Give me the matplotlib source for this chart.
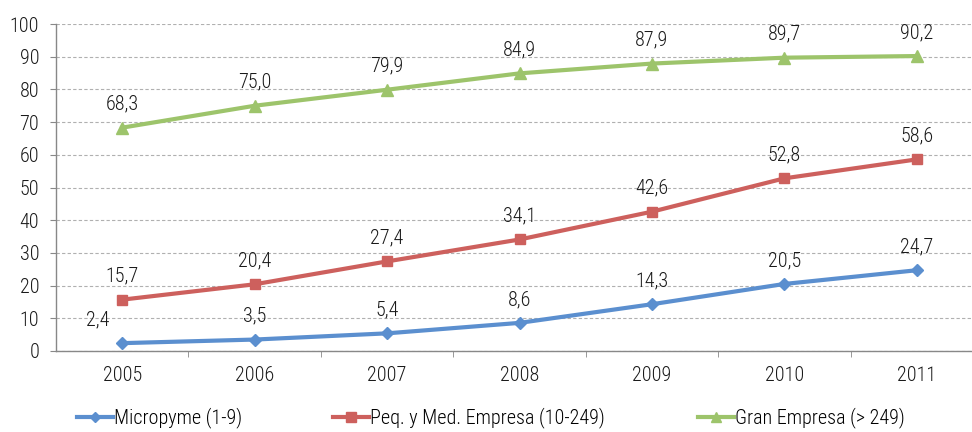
import matplotlib
matplotlib.use("Agg")
import matplotlib.pyplot as plt
from matplotlib.lines import Line2D

plt.rcParams['font.family'] = ['Roboto Condensed', 'DejaVu Sans']
plt.rcParams['font.weight'] = 'light'

years = ["2005", "2006", "2007", "2008", "2009", "2010", "2011"]
micro = [2.4, 3.5, 5.4, 8.6, 14.3, 20.5, 24.7]
pyme = [15.7, 20.4, 27.4, 34.1, 42.6, 52.8, 58.6]
gran = [68.3, 75.0, 79.9, 84.9, 87.9, 89.7, 90.2]
series_names = ["Micropyme (1-9)", "Peq. y Med. Empresa (10-249)", "Gran Empresa (> 249)"]
colors = ["#5B8FCF", "#CD605D", "#9DC46B"]
markers = ["D", "s", "^"]
msizes = [6.5, 7.5, 8.5]

W, H = 972, 432
fig = plt.figure(figsize=(W / 100, H / 100), dpi=100)
ax = fig.add_axes([56 / W, (H - 351) / H, (983 - 56) / W, (351 - 24) / H])

x = list(range(len(years)))
fs = 14.5
for vals, c, m, ms in zip([micro, pyme, gran], colors, markers, msizes):
    ax.plot(x, vals, color=c, lw=3, marker=m, ms=ms, mec=c, mfc=c, zorder=3, clip_on=False)

for vals in [gran, pyme, micro]:
    for i, v in enumerate(vals):
        dx = 0
        if vals is micro and i == 0:
            dx = -18
        ax.annotate(f"{v:.1f}".replace(".", ","), (i, v), xytext=(dx, 10),
                    textcoords="offset points", ha="center", va="bottom",
                    fontsize=fs, color="#1a1a1a")

ax.set_xlim(-0.5, len(years) - 0.5)
ax.set_ylim(0, 100)
ax.set_yticks(range(0, 101, 10))
ax.set_xticks(x)
ax.set_xticklabels(years)
ax.set_xticks([i + 0.5 for i in range(len(years) - 1)], minor=True)
ax.tick_params(axis="x", which="major", length=0, pad=11, labelsize=fs, colors="#1a1a1a")
ax.tick_params(axis="x", which="minor", length=4, color="#888888")
ax.tick_params(axis="y", length=4, color="#888888", labelsize=fs, labelcolor="#1a1a1a", pad=8)
ax.grid(axis="y", linestyle=(0, (3, 2)), color="#b0b0b0", lw=0.8)
ax.set_axisbelow(True)
for s in ["top", "right"]:
    ax.spines[s].set_visible(False)
for s in ["left", "bottom"]:
    ax.spines[s].set_color("#888888")
    ax.spines[s].set_linewidth(1)

xs = [77, 333, 698]
for name, c, m, ms, xp in zip(series_names, colors, markers, msizes, xs):
    h = Line2D([], [], color=c, lw=3, marker=m, ms=ms - 1, mec=c, mfc=c)
    fig.legend([h], [name], loc="center left", bbox_to_anchor=(xp / W, (H - 418) / H),
               frameon=False, fontsize=fs, handlelength=1.8, handletextpad=0.05,
               borderpad=0, borderaxespad=0)

fig.savefig("out.png", dpi=100)
